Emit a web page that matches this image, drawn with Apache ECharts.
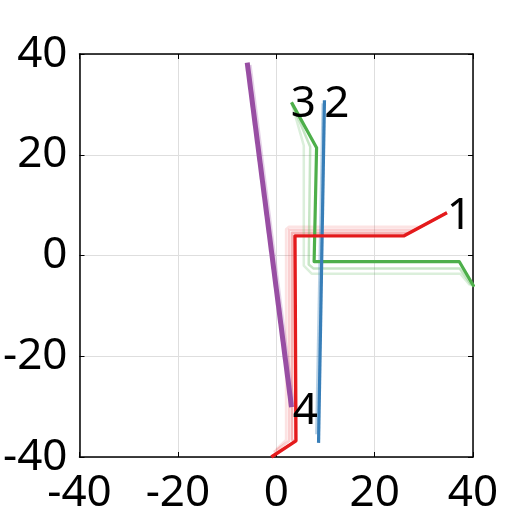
<!DOCTYPE html>
<html>
<head>
<meta charset="utf-8">
<script src="https://cdn.jsdelivr.net/npm/echarts@6/dist/echarts.min.js"></script>
<style>
  html, body { margin: 0; padding: 0; background: #fff; }
  #chart { width: 531px; height: 531px; }
</style>
</head>
<body>
<div id="chart"></div>
<script>
// axis ticks
const axisTicks = [-40, -20, 0, 20, 40]

// trajectories (main path + faded trail copies)
const redMain = [[-1, -40], [4, -36.8], [3.8, 3.9], [26, 3.9], [34.7, 8.5]]
const redTrail1 = [[-1, -40], [3.6, -37], [3.2, -36.5], [3.2, 4.5], [27.1, 4.5], [34.7, 8.5]]
const redTrail2 = [[-0.5, -39], [2.6, -36.8], [2.6, 5.1], [28.2, 5.1], [34.7, 8.5]]
const redTrail3 = [[0, -38.5], [2.0, -36.6], [2.0, 5.2], [2.6, 5.7], [29.4, 5.7], [34.7, 8.5]]

const greenMain = [[3.1, 30.4], [8.2, 21.4], [7.7, -1.2], [37.2, -1.2], [40.2, -6.2]]
const greenTrail1 = [[3.1, 30.4], [6.9, 21.6], [6.6, -1.8], [7.6, -2.6], [37.3, -2.6], [39.8, -6.0]]
const greenTrail2 = [[3.1, 30.4], [5.6, 21.8], [5.6, -2.0], [7.2, -3.6], [37.4, -3.6], [39.4, -5.9]]

const blueMain = [[9.8, 30.8], [8.6, -37.2]]
const blueTrail = [[9.5, 30.2], [8.2, -35.5]]

const purpleMain = [[-5.9, 38.3], [3.1, -30.1]]
const purpleTrail = [[-5.4, 37.8], [3.4, -29.5]]

// labels at the trajectory ends
const labelNames = ['1', '2', '3', '4']
const labelPos = [[37.2, 7.7], [12.3, 30.0], [5.5, 30.0], [5.9, -30.9]]

const RED = '#e41a1c'
const GREEN = '#4daf4a'
const BLUE = '#377eb8'
const PURPLE = '#984ea3'
const FONT = 'Noto Sans'

const chart = echarts.init(document.getElementById('chart'))

const line = (data, color, width, opacity, z) => ({
  type: 'line',
  data: data,
  showSymbol: false,
  symbol: 'none',
  animation: false,
  z: z,
  lineStyle: { color: color, width: width, opacity: opacity, join: 'round', cap: 'butt' }
})

const baseAxis = {
  type: 'value',
  min: -40,
  max: 40,
  interval: 20,
  axisLine: { show: true, onZero: false, lineStyle: { color: '#000', width: 1.5 } },
  axisTick: { show: true, inside: true, length: 5, lineStyle: { color: '#000', width: 1 } },
  splitLine: { show: false }
}

const option = {
  animation: false,
  grid: { left: 76, right: 58, top: 54, bottom: 74, containLabel: false },
  xAxis: [
    Object.assign({}, baseAxis, {
      position: 'bottom',
      splitLine: { show: true, lineStyle: { color: '#dedede', width: 1 } },
      axisLabel: {
        fontSize: 44, fontFamily: FONT, color: '#000', margin: 14,
        formatter: v => (axisTicks.includes(v) ? String(v) : '')
      }
    }),
    Object.assign({}, baseAxis, { position: 'top', axisLabel: { show: false } })
  ],
  yAxis: [
    Object.assign({}, baseAxis, {
      position: 'left',
      splitLine: { show: true, lineStyle: { color: '#dedede', width: 1 } },
      axisLabel: {
        fontSize: 44, fontFamily: FONT, color: '#000', margin: 12,
        formatter: v => (axisTicks.includes(v) ? String(v) : '')
      }
    }),
    Object.assign({}, baseAxis, { position: 'right', axisLabel: { show: false } })
  ],
  series: [
    line(redTrail3, RED, 2.5, 0.12, 2),
    line(redTrail2, RED, 2.5, 0.2, 2),
    line(redTrail1, RED, 2.5, 0.32, 2),
    line(greenTrail2, GREEN, 2.5, 0.2, 2),
    line(greenTrail1, GREEN, 2.5, 0.32, 2),
    line(blueTrail, BLUE, 3, 0.35, 2),
    line(purpleTrail, PURPLE, 4, 0.25, 2),
    line(greenMain, GREEN, 3.2, 1, 3),
    line(blueMain, BLUE, 3.2, 1, 3),
    line(purpleMain, PURPLE, 5, 1, 3),
    line(redMain, RED, 3.4, 1, 4),
    {
      type: 'scatter',
      symbolSize: 0,
      animation: false,
      z: 5,
      itemStyle: { opacity: 1 },
      data: labelPos.map((p, i) => ({ value: p, name: labelNames[i] })),
      label: {
        show: true,
        position: 'inside',
        formatter: p => p.name,
        fontSize: 44,
        fontFamily: FONT,
        color: '#000',
        opacity: 1,
        textBorderWidth: 0
      }
    }
  ]
}

chart.setOption(option)

window.addEventListener('resize', () => {
  chart.resize()
})
</script>
</body>
</html>
